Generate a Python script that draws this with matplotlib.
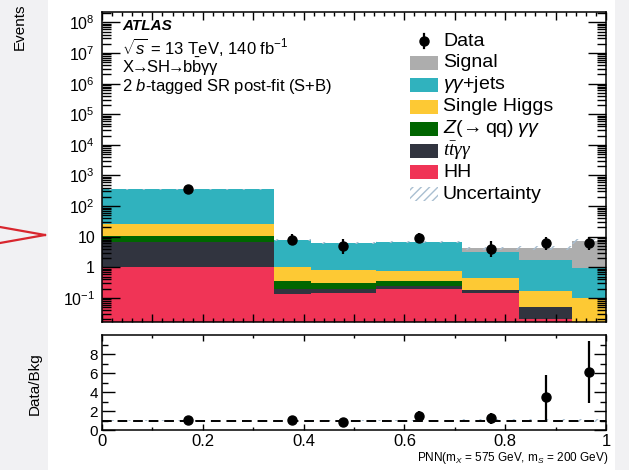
import numpy as np
import matplotlib
matplotlib.use("Agg")
import matplotlib.pyplot as plt
from matplotlib.patches import Rectangle
from matplotlib.lines import Line2D
from matplotlib.ticker import FixedLocator, NullFormatter, LogLocator, MultipleLocator

plt.rcParams['font.family'] = ['Liberation Sans', 'DejaVu Sans']
plt.rcParams['mathtext.fontset'] = 'custom'
plt.rcParams['mathtext.rm'] = 'Liberation Sans'
plt.rcParams['mathtext.it'] = 'Liberation Sans:italic'
plt.rcParams['mathtext.bf'] = 'Liberation Sans:bold'
plt.rcParams['mathtext.sf'] = 'Liberation Serif:italic'
plt.rcParams['hatch.linewidth'] = 1.0

# PNN bin edges
bin_edges = [0.0, 0.341, 0.414, 0.544, 0.715, 0.827, 0.933, 1.0]

# post-fit yields per bin, stacked bottom to top
hh       = [1.0, 0.137, 0.148, 0.200, 0.148, 0.020, 0.005]
ttyy     = [5.7, 0.053, 0.042, 0.045, 0.032, 0.029, 0.005]
zqq_yy   = [3.8, 0.175, 0.124, 0.111, 0.003, 0.001, 0.0]
single_h = [16.5, 0.685, 0.52, 0.414, 0.28, 0.123, 0.09]
yy_jets  = [327.0, 6.75, 5.57, 6.13, 2.74, 1.56, 0.87]
signal   = [0.5, 0.05, 0.05, 0.05, 1.0, 2.47, 6.1]

# relative total uncertainty of the prediction
rel_unc = [0.03, 0.08, 0.08, 0.08, 0.12, 0.15, 0.18]

# observed events with asymmetric Poisson errors
data        = [355, 8, 5, 9, 4, 6, 6]
data_err_lo = [18.8, 2.8, 2.2, 2.9, 1.9, 2.4, 2.4]
data_err_hi = [19.8, 3.9, 3.4, 4.1, 3.2, 3.6, 3.6]

# data / background ratio
ratio        = [1.02, 1.10, 0.87, 1.47, 1.23, 3.44, 6.14]
ratio_err_lo = [0.06, 0.35, 0.39, 0.50, 0.55, 2.40, 3.30]
ratio_err_hi = [0.06, 0.35, 0.39, 0.50, 0.55, 2.40, 3.30]

y_ticks = [1e-1, 1, 1e1, 1e2, 1e3, 1e4, 1e5, 1e6, 1e7, 1e8]
y_tick_labels = [r'$10^{-1}$', '1', '10', r'$10^{2}$', r'$10^{3}$', r'$10^{4}$',
                 r'$10^{5}$', r'$10^{6}$', r'$10^{7}$', r'$10^{8}$']
x_ticks = [0.0, 0.2, 0.4, 0.6, 0.8, 1.0]
x_tick_labels = ['0', '0.2', '0.4', '0.6', '0.8', '1']
ratio_ticks = [0, 2, 4, 6, 8]
ratio_tick_labels = ['0', '2', '4', '6', '8']

labels = ['Data', 'Signal', r'$\gamma\gamma$+jets', 'Single Higgs',
          r'$Z(\!\rightarrow$qq$)\;\gamma\gamma$', r'$\mathsf{t\bar{t}\gamma\gamma}$',
          'HH', 'Uncertainty']

colors = {
    'hh': '#f03456', 'ttyy': '#31343f', 'zqq': '#006600',
    'single_h': '#fdc934', 'yy_jets': '#30b2be', 'signal': '#adadad',
}
hatch_col = '#a9bfd1'

W, H = 629, 470
fig = plt.figure(figsize=(W / 100, H / 100), dpi=100)


def fx(px):
    return px / W


def fy(py):
    return 1 - py / H


# page margins of the surrounding view
fig.patches.append(Rectangle((0, 0), fx(48), 1, transform=fig.transFigure,
                             facecolor='#f1f1f3', edgecolor='none', zorder=-10))
fig.patches.append(Rectangle((fx(615), 0), 1 - fx(615), 1, transform=fig.transFigure,
                             facecolor='#f1f1f3', edgecolor='none', zorder=-10))
fig.add_artist(Line2D([0, fx(45)], [fy(227), fy(235)], transform=fig.transFigure,
                      color='#d8262e', lw=1.6))
fig.add_artist(Line2D([0, fx(45)], [fy(243), fy(235)], transform=fig.transFigure,
                      color='#d8262e', lw=1.6))

ax_l, ax_r = 102, 606
ax = fig.add_axes([fx(ax_l), fy(321.7), fx(ax_r - ax_l), (321.7 - 11.7) / H])
rax = fig.add_axes([fx(ax_l), fy(430), fx(ax_r - ax_l), (430 - 335.3) / H])

edges = np.array(bin_edges)
centers = 0.5 * (edges[:-1] + edges[1:])

layers = [(hh, colors['hh']), (ttyy, colors['ttyy']), (zqq_yy, colors['zqq']),
          (single_h, colors['single_h']), (yy_jets, colors['yy_jets']),
          (signal, colors['signal'])]
base = np.full(len(centers), 1e-4)
for vals, col in layers:
    top = base + np.asarray(vals)
    ax.stairs(top, edges, baseline=base, fill=True, facecolor=col, edgecolor='none',
              lw=0, zorder=1)
    base = top
total = base
unc = np.asarray(rel_unc)
ax.stairs(total * (1 + unc), edges, baseline=total * (1 - unc), fill=True,
          facecolor='none', edgecolor=hatch_col, hatch='//', lw=0, zorder=2)

ax.errorbar(centers, data, yerr=[data_err_lo, data_err_hi], fmt='o', color='k',
            ms=6.5, elinewidth=1.6, capsize=0, zorder=5)

ax.set_xlim(0, 1)
ax.set_yscale('log')
ax.set_ylim(0.0167, 2.25e8)
ax.yaxis.set_major_locator(FixedLocator(y_ticks))
ax.set_yticklabels(y_tick_labels)
ax.yaxis.set_minor_locator(LogLocator(base=10, subs=np.arange(2, 10) * 1.0, numticks=100))
ax.yaxis.set_minor_formatter(NullFormatter())
ax.xaxis.set_major_locator(MultipleLocator(0.1))
ax.xaxis.set_minor_locator(MultipleLocator(0.02))
ax.tick_params(which='both', direction='in', top=True, right=True, width=1,
               labelbottom=False)
ax.tick_params(axis='y', which='major', length=13, labelsize=11.5, pad=5)
ax.tick_params(axis='y', which='minor', length=6.5)
ax.tick_params(axis='x', which='major', length=6)
ax.tick_params(axis='x', which='minor', length=3)
for s in ax.spines.values():
    s.set_linewidth(1.1)


def ay(py):
    return 1 - (py - 11.7) / 310.0


# labels on the upper panel
tx = (122 - ax_l) / (ax_r - ax_l)
ax.text(tx, ay(26), 'ATLAS', transform=ax.transAxes, fontsize=11,
        fontweight='bold', fontstyle='italic', va='center', ha='left')
ax.text(tx, ay(47), r'$\sqrt{s}$ = 13 TeV, 140 fb$^{-1}$', transform=ax.transAxes,
        fontsize=12, va='center', ha='left')
ax.text(tx, ay(67), r'X$\!\!\rightarrow\!\!$SH$\!\!\rightarrow\!\!$b$\bar{\mathrm{b}}$γγ',
        transform=ax.transAxes, fontsize=12, va='center', ha='left')
ax.text(tx, ay(87), r'2 $b$-tagged SR post-fit (S+B)', transform=ax.transAxes,
        fontsize=12, va='center', ha='left')

# legend
lx0 = (410 - ax_l) / (ax_r - ax_l)
lw_ = 28 / (ax_r - ax_l)
lh_ = 14 / 310.0
ltx = (443 - ax_l) / (ax_r - ax_l)
row_y = [41 + 21.9 * i for i in range(8)]
fills = [None, colors['signal'], colors['yy_jets'], colors['single_h'],
         colors['zqq'], colors['ttyy'], colors['hh'], 'hatch']
for yy, lab, fc in zip(row_y, labels, fills):
    yc = ay(yy)
    if fc is None:
        xm = lx0 + lw_ / 2
        ax.plot([xm], [yc], 'o', color='k', ms=6.5, transform=ax.transAxes,
                clip_on=False, zorder=6)
        ax.plot([xm, xm], [yc - lh_ / 2, yc + lh_ / 2], color='k', lw=1.6,
                transform=ax.transAxes, clip_on=False, zorder=6)
    elif fc == 'hatch':
        ax.add_patch(Rectangle((lx0, yc - lh_ / 2), lw_, lh_, transform=ax.transAxes,
                               facecolor='none', edgecolor=hatch_col, hatch='////',
                               lw=0, zorder=6))
    else:
        ax.add_patch(Rectangle((lx0, yc - lh_ / 2), lw_, lh_, transform=ax.transAxes,
                               facecolor=fc, edgecolor='none', zorder=6))
    ax.text(ltx, yc, lab, transform=ax.transAxes, fontsize=14, va='center',
            ha='left', zorder=6)

# ratio panel
rax.stairs(1 + unc, edges, baseline=1 - unc, fill=True, facecolor='none',
           edgecolor=hatch_col, hatch='//', lw=0, zorder=1)
rax.axhline(1, color='k', ls=(0, (5, 3)), lw=1.4, zorder=2)
rax.errorbar(centers, ratio, yerr=[ratio_err_lo, ratio_err_hi], fmt='o', color='k',
             ms=6.5, elinewidth=1.6, capsize=0, zorder=5)
rax.set_xlim(0, 1)
rax.set_ylim(0, 10)
rax.yaxis.set_major_locator(FixedLocator(ratio_ticks))
rax.set_yticklabels(ratio_tick_labels)
rax.yaxis.set_minor_locator(FixedLocator([1, 3, 5, 7, 9]))
rax.xaxis.set_major_locator(FixedLocator(x_ticks))
rax.set_xticklabels(x_tick_labels)
rax.xaxis.set_minor_locator(MultipleLocator(0.1))
rax.tick_params(which='both', direction='in', top=True, right=True, width=1)
rax.tick_params(axis='y', which='major', length=9, labelsize=11, pad=3)
rax.tick_params(axis='y', which='minor', length=4.5)
rax.tick_params(axis='x', which='major', length=4, labelsize=12, pad=3)
rax.tick_params(axis='x', which='minor', length=2.5)
for s in rax.spines.values():
    s.set_linewidth(1.1)

fig.text(fx(608), fy(458), r'PNN(m$_{X}$ = 575 GeV, m$_{S}$ = 200 GeV)',
         ha='right', va='center', fontsize=8.5)
fig.text(fx(20), fy(3), 'Events', rotation=90, ha='center', va='top', fontsize=11)
fig.text(fx(35), fy(352), 'Data/Bkg', rotation=90, ha='center', va='top', fontsize=11)

fig.savefig('out.png', dpi=100)
